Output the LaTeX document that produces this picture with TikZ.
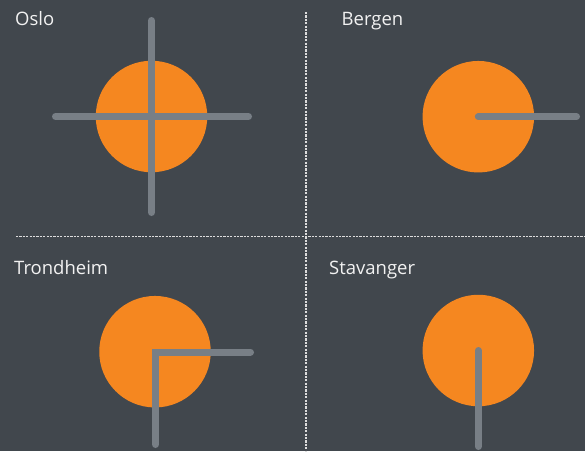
\documentclass[tikz,border=0pt]{standalone}
\usepackage{fontspec}
\setmainfont{Open Sans}
\definecolor{bg}{HTML}{41474D}
\definecolor{dot}{HTML}{F58720}
\definecolor{bar}{HTML}{787F86}
\definecolor{txt}{HTML}{F2F2F2}
\definecolor{sep}{HTML}{DDDDDD}
\tikzset{
  city/.style={anchor=base west, inner sep=0pt, text=txt, font=\fontsize{18.5}{22}\selectfont},
  disc/.style={circle, fill=dot, minimum size=111.5pt, inner sep=0pt, draw=none},
  barline/.style={draw=bar, line width=7pt, line cap=round},
  sepline/.style={draw=sep, line width=1.1pt, dash pattern=on 2.2pt off 1.2pt},
}
\begin{document}
\begin{tikzpicture}[x=1pt,y=-1pt]
\path[fill=bg] (0,0) rectangle (585,451);
\useasboundingbox (0,0) rectangle (585,451);
% separators
\coordinate (vtop) at (306,12);
\coordinate (vbot) at (306,451);
\coordinate (hl) at (16,236.5);
\coordinate (hr) at (585,236.5);
\draw[sepline] (vtop) -- (vbot);
\draw[sepline] (hl) -- (hr);
% Oslo
\node[city] (oslo) at (15,25.5) {Oslo};
\node[disc] (c1) at (151.5,116.5) {};
\coordinate (o1) at (151.5,20.5);
\coordinate (o2) at (151.5,212.5);
\coordinate (o3) at (55.5,116.5);
\coordinate (o4) at (248.5,116.5);
\draw[barline] (o1) -- (o2);
\draw[barline] (o3) -- (o4);
% Bergen
\node[city] (bergen) at (341.5,25.5) {Bergen};
\node[disc] (c2) at (478.3,116.7) {};
\coordinate (b1) at (576.5,116.7);
\draw[barline] (c2.center) -- (b1);
% Trondheim
\node[city] (trond) at (14,274.5) {Trondheim};
\node[disc] (c3) at (155,351.7) {};
\coordinate (t1) at (250.5,352);
\coordinate (t2) at (155.5,352);
\coordinate (t3) at (155.5,444.5);
\draw[barline, line join=miter] (t1) -- (t2) -- (t3);
% Stavanger
\node[city] (stav) at (329,274.5) {Stavanger};
\node[disc] (c4) at (478.3,350.5) {};
\coordinate (s1) at (478.3,446.5);
\draw[barline] (c4.center) -- (s1);
\end{tikzpicture}
\end{document}
